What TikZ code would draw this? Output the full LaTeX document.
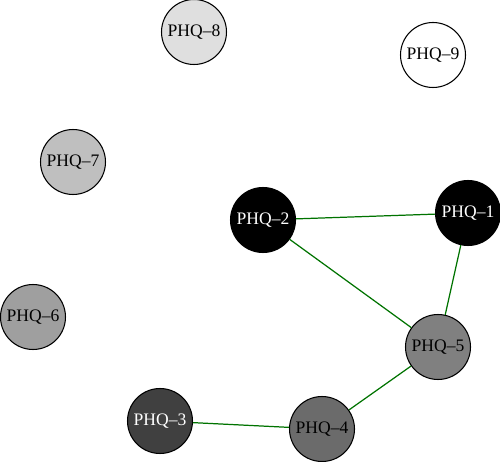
\documentclass[tikz,border=0pt]{standalone}
\usepackage{fontspec}
\setmainfont{Liberation Serif}
\usepackage{tikz}

\begin{document}
\begin{tikzpicture}	[
		x = 0.02cm,
		y = -0.02cm,
		c/.style = {
			draw,
			circle,
			line width = 0.6pt,
			minimum size = 1.3cm,
			inner sep = 0pt,
			font = \fontsize{10}{12}\selectfont
		},
		e/.style = {
			draw = green!45!black,
			line width = 0.7pt
		}
	]
	\useasboundingbox (0,0) rectangle (500,462);

	\node [c, fill=gray!25] (p8) at (194,32) {PHQ--8};
	\node [c, fill=white] (p9) at (433,55) {PHQ--9};
	\node [c, fill=gray!50] (p7) at (73,162) {PHQ--7};
	\node [c, fill=black, text=white] (p2) at (263,220) {PHQ--2};
	\node [c, fill=black, text=white] (p1) at (468,213) {PHQ--1};
	\node [c, fill=gray!75] (p6) at (33,317) {PHQ--6};
	\node [c, fill=gray] (p5) at (438,347) {PHQ--5};
	\node [c, fill=black!75, text=white] (p3) at (160,421) {PHQ--3};
	\node [c, fill=black!58] (p4) at (322,429) {PHQ--4};

	\draw [e] (p2) -- (p1);
	\draw [e] (p2) -- (p5);
	\draw [e] (p1) -- (p5);
	\draw [e] (p5) -- (p4);
	\draw [e] (p4) -- (p3);
\end{tikzpicture}
\end{document}
